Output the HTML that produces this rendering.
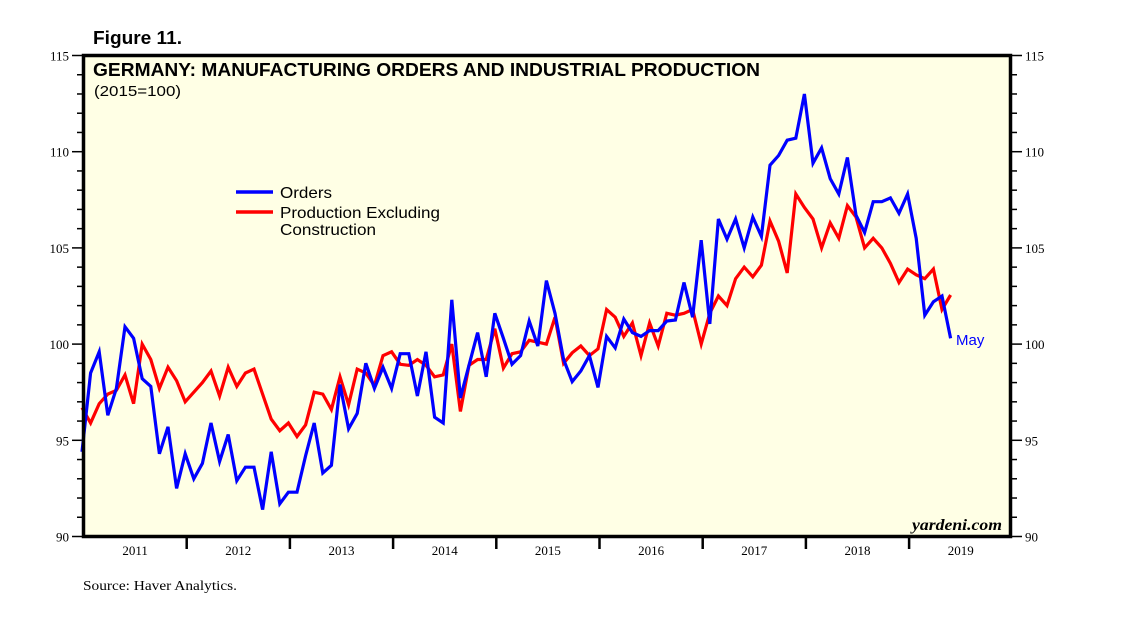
<!DOCTYPE html>
<html><head><meta charset="utf-8"><style>
body{margin:0;background:#fff;width:1138px;height:621px;overflow:hidden}
svg{display:block}
</style></head><body>
<svg id="chart" width="1138" height="621" xmlns="http://www.w3.org/2000/svg">
<text x="93" y="44" textLength="89" lengthAdjust="spacingAndGlyphs" font-family="Liberation Sans, sans-serif" font-weight="bold" font-size="18" fill="#000">Figure 11.</text>
<rect x="83.5" y="55.5" width="927" height="481" fill="#ffffe5" stroke="none"/>
<g id="ticks"></g>
<g id="series"></g>
<rect x="83.5" y="55.5" width="927" height="481" fill="none" stroke="#000" stroke-width="3.5"/>
<text x="93" y="76" textLength="667" lengthAdjust="spacingAndGlyphs" font-family="Liberation Sans, sans-serif" font-weight="bold" font-size="18" fill="#000">GERMANY: MANUFACTURING ORDERS AND INDUSTRIAL PRODUCTION</text>
<text x="94" y="96" textLength="87" lengthAdjust="spacingAndGlyphs" font-family="Liberation Sans, sans-serif" font-size="15" fill="#000">(2015=100)</text>
<g>
<line x1="236" y1="192" x2="273" y2="192" stroke="#0000ff" stroke-width="3.5"/>
<text x="280" y="198" textLength="52" lengthAdjust="spacingAndGlyphs" font-family="Liberation Sans, sans-serif" font-size="16">Orders</text>
<line x1="236" y1="212" x2="273" y2="212" stroke="#ff0000" stroke-width="3.5"/>
<text x="280" y="218" textLength="160" lengthAdjust="spacingAndGlyphs" font-family="Liberation Sans, sans-serif" font-size="16">Production Excluding</text>
<text x="280" y="235" textLength="96" lengthAdjust="spacingAndGlyphs" font-family="Liberation Sans, sans-serif" font-size="16">Construction</text>
</g>
<text x="956" y="345" font-family="Liberation Sans, sans-serif" font-size="15" fill="#0000ff">May</text>
<text x="1002" y="530" text-anchor="end" textLength="90" lengthAdjust="spacingAndGlyphs" font-family="Liberation Serif, serif" font-style="italic" font-weight="bold" font-size="16" fill="#000">yardeni.com</text>
<text x="83" y="590" textLength="154" lengthAdjust="spacingAndGlyphs" font-family="Liberation Serif, serif" font-size="14" fill="#000">Source: Haver Analytics.</text>
</svg>
<script>
const yTicks=[90,95,100,105,110,115];
const years=['2011','2012','2013','2014','2015','2016','2017','2018','2019'];
const orders=[94.4,98.5,99.6,96.3,97.7,100.9,100.3,98.2,97.8,94.3,95.7,92.5,94.3,93.0,93.8,95.9,93.9,95.3,92.9,93.6,93.6,91.4,94.4,91.7,92.3,92.3,94.2,95.9,93.3,93.7,97.9,95.6,96.4,99.0,97.7,98.8,97.7,99.5,99.5,97.3,99.6,96.2,95.9,102.3,97.2,98.9,100.6,98.3,101.6,100.3,98.95,99.4,101.2,99.9,103.3,101.6,99.2,98.05,98.6,99.4,97.75,100.4,99.8,101.3,100.6,100.4,100.7,100.7,101.2,101.25,103.2,101.4,105.4,101.05,106.5,105.45,106.5,105.0,106.6,105.6,109.3,109.8,110.6,110.7,113.0,109.4,110.2,108.6,107.8,109.7,106.7,105.8,107.4,107.4,107.6,106.8,107.8,105.5,101.5,102.2,102.5,100.3];
const production=[96.7,95.9,96.9,97.4,97.6,98.4,96.9,100.0,99.2,97.7,98.8,98.1,97.0,97.5,98.0,98.6,97.3,98.8,97.8,98.5,98.7,97.4,96.1,95.5,95.9,95.2,95.8,97.5,97.4,96.6,98.3,96.85,98.7,98.5,97.85,99.4,99.6,98.95,98.9,99.2,98.9,98.3,98.4,100.0,96.5,98.9,99.2,99.2,100.8,98.75,99.5,99.6,100.2,100.1,100.0,101.4,99.0,99.55,99.9,99.4,99.75,101.8,101.4,100.4,101.1,99.4,101.1,99.9,101.6,101.5,101.6,101.8,100.0,101.6,102.5,102.0,103.4,104.0,103.5,104.1,106.4,105.35,103.7,107.8,107.1,106.5,105.0,106.3,105.5,107.2,106.6,105.0,105.5,105.0,104.2,103.2,103.9,103.6,103.4,103.9,101.8,102.55];
const NS='http://www.w3.org/2000/svg';
const X0=82,STEP=8.6,YEARW=103.2,XL=83.5,XR=1010.5;
function yScale(v){return 55.5+(115-v)*(481/25);}
function xScale(i){return X0+i*STEP;}
function mk(tag,attrs,parent){const e=document.createElementNS(NS,tag);for(const k in attrs)e.setAttribute(k,attrs[k]);parent.appendChild(e);return e;}
const tg=document.getElementById('ticks');
for(let v=90;v<=115;v++){
  const y=yScale(v);const major=(v%5===0);
  const l1=mk('line',{x1:major?72:77,y1:y,x2:XL,y2:y,stroke:'#000','stroke-width':1.5},tg);
  
  
  const l2=mk('line',{x1:XR,y1:y,x2:major?1022:1017,y2:y,stroke:'#000','stroke-width':1.5},tg);
  
  
}
yTicks.forEach(v=>{
  const y=yScale(v);
  const t1=mk('text',{x:69,y:y+5,'text-anchor':'end','font-family':'Liberation Serif, serif','font-size':13},tg);t1.textContent=v;
  
  
  const t2=mk('text',{x:1025,y:y+5,'font-family':'Liberation Serif, serif','font-size':13},tg);t2.textContent=v;
  
  
});
years.forEach((yr,k)=>{
  const xs=XL+k*YEARW;
  const t=mk('text',{x:xs+YEARW/2,y:555,'text-anchor':'middle','font-family':'Liberation Serif, serif','font-size':13},tg);t.textContent=yr;
  
  
  if(k>0){const l=mk('line',{x1:xs,y1:536,x2:xs,y2:549,stroke:'#000','stroke-width':2.5},tg);
  
  }
});
const sg=document.getElementById('series');
function draw(arr,color,name){
  const d=arr.map((v,i)=>(i?'L':'M')+xScale(i).toFixed(1)+' '+yScale(v).toFixed(1)).join(' ');
  const p=mk('path',{d:d,fill:'none',stroke:color,'stroke-width':3.2,'stroke-linejoin':'miter'},sg);
  
  
}
draw(production,'#ff0000','production-line');
draw(orders,'#0000ff','orders-line');
</script>
</body></html>
